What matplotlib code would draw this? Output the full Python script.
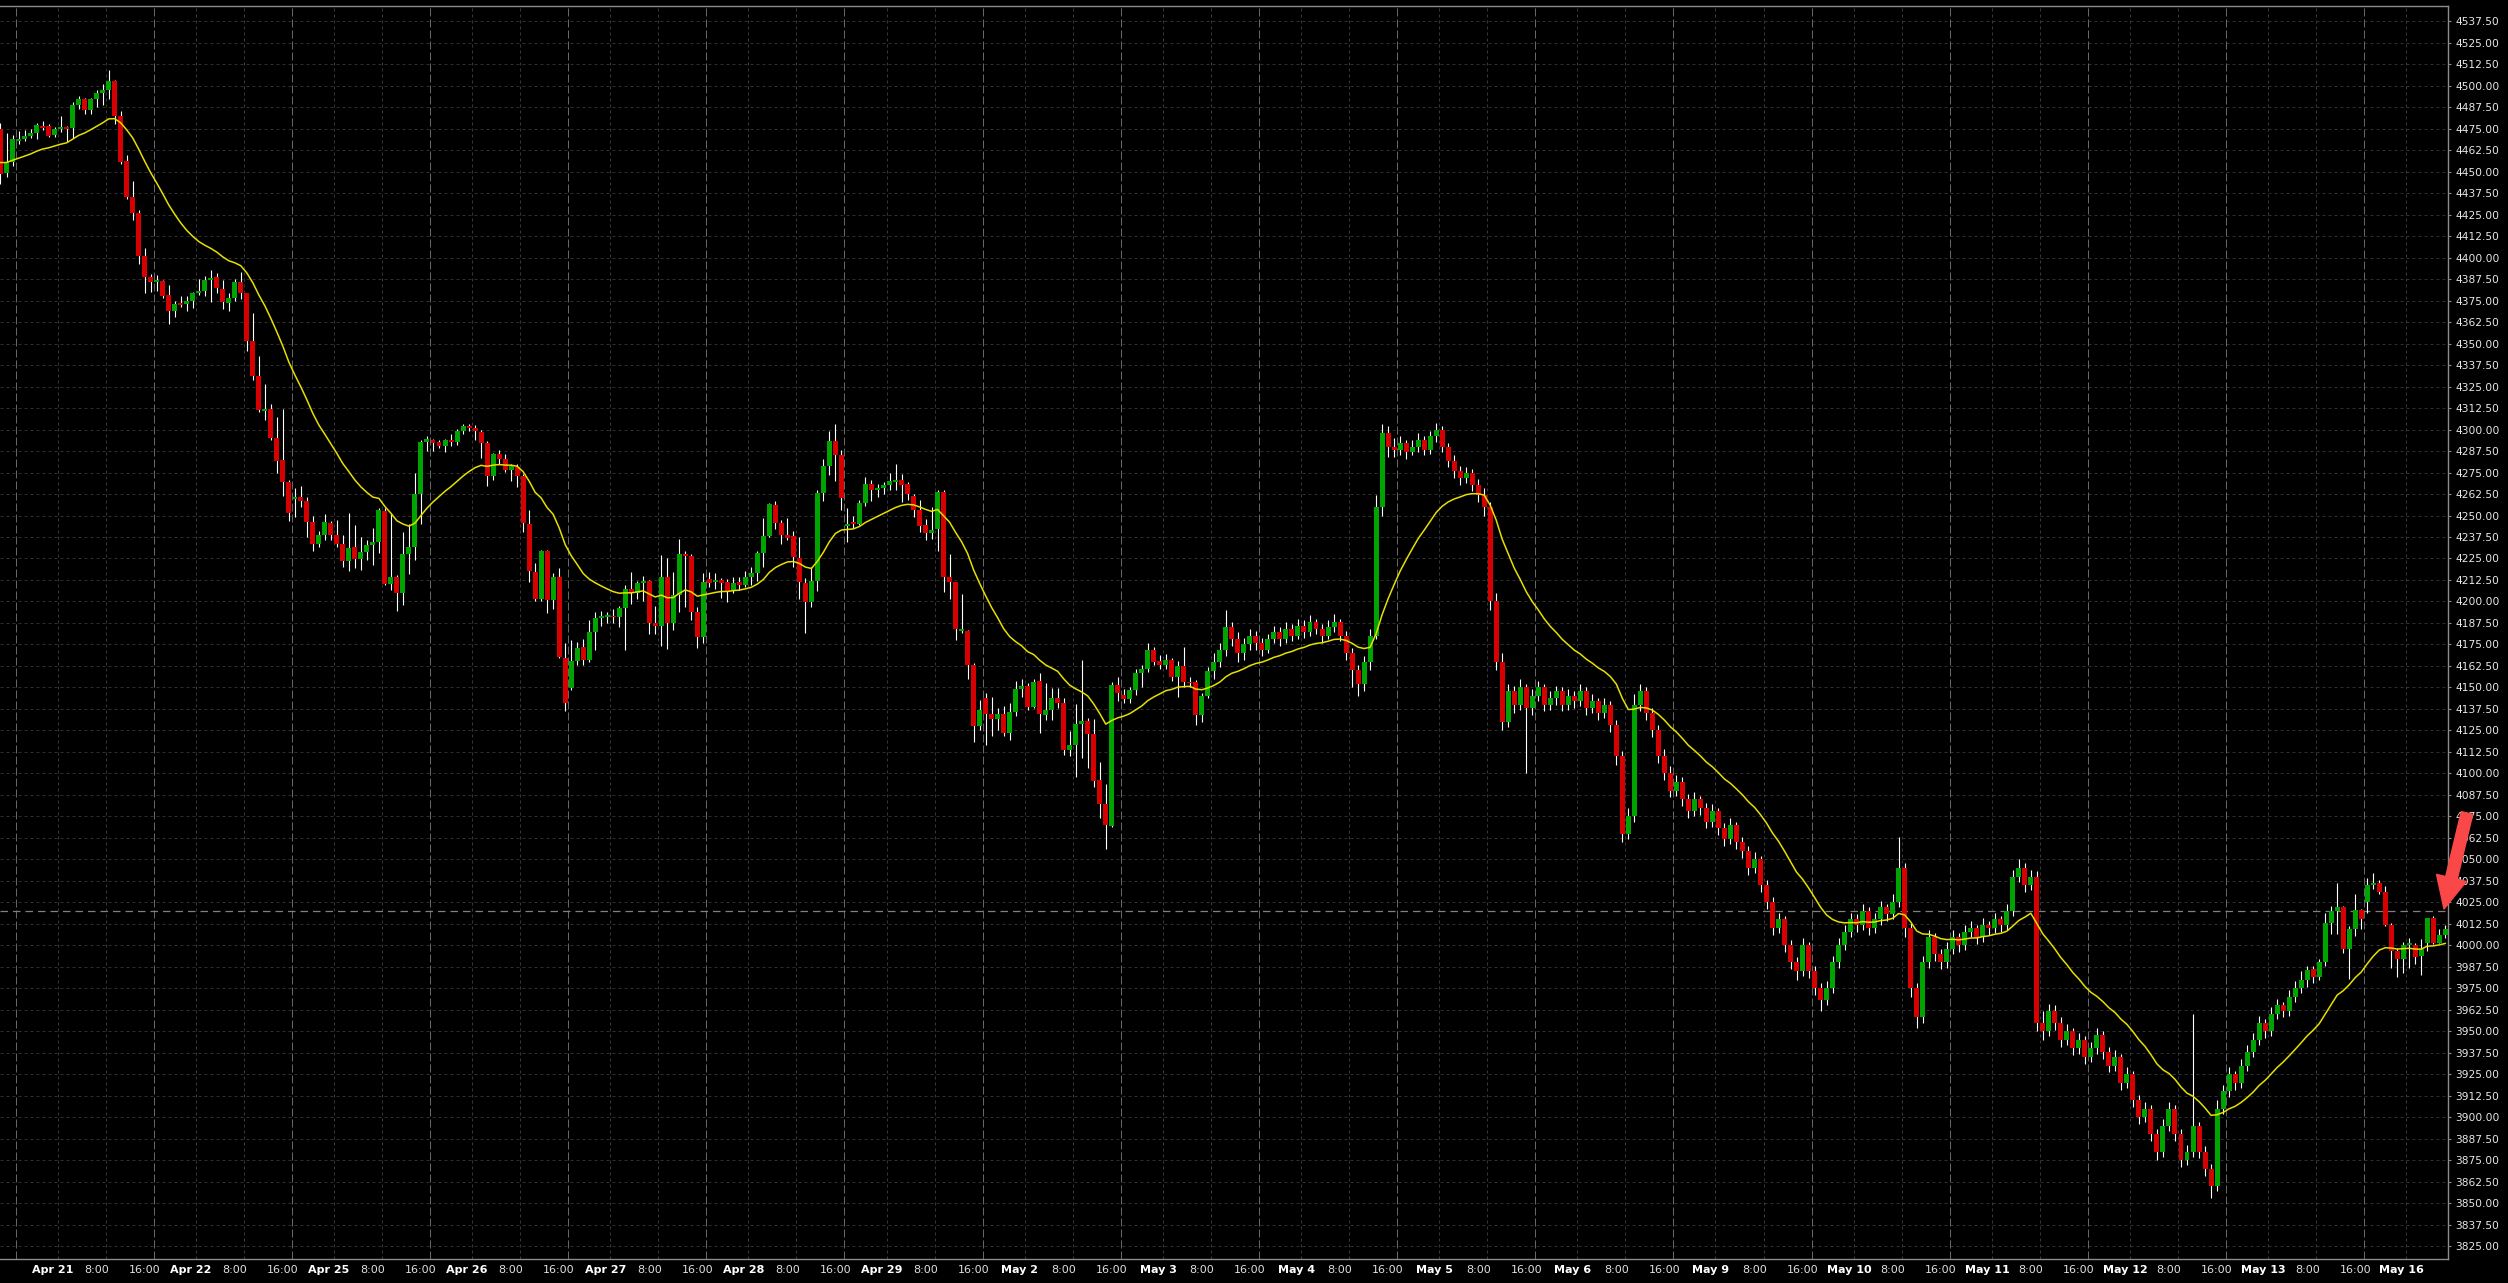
import numpy as np
import pandas as pd
import matplotlib
matplotlib.use("Agg")
import matplotlib.pyplot as plt
from matplotlib.transforms import blended_transform_factory

# hourly bars, 23 per session
opens = [
    4474.7, 4449.3, 4455.7, 4468.0, 4468.9, 4470.6, 4472.4, 4476.5, 4476.5, 4471.2,
    4474.7, 4475.9, 4475.3, 4488.7, 4492.2, 4485.8, 4492.2, 4495.8, 4497.4, 4502.6,
    4482.3, 4456.0, 4435.4, 4425.7, 4400.9, 4388.9, 4386.0, 4386.5, 4378.0, 4369.1,
    4373.3, 4373.3, 4374.9, 4379.2, 4380.7, 4386.9, 4388.5, 4381.5, 4373.7, 4376.5,
    4385.8, 4379.2, 4351.6, 4331.1, 4311.0, 4311.9, 4295.3, 4282.3, 4269.3, 4259.4,
    4260.6, 4258.4, 4246.0, 4233.4, 4238.7, 4245.4, 4238.7, 4233.4, 4223.7, 4231.5,
    4224.7, 4228.6, 4232.9, 4234.6, 4252.6, 4210.2, 4214.2, 4205.1, 4227.5, 4231.8,
    4262.4, 4292.6, 4293.8, 4292.6, 4290.5, 4293.8, 4292.6, 4299.0, 4301.9, 4301.2,
    4298.4, 4291.9, 4273.1, 4286.0, 4282.6, 4276.4, 4278.3, 4273.1, 4245.0, 4217.4,
    4201.6, 4229.3, 4200.8, 4214.0, 4167.4, 4149.8, 4165.3, 4173.3, 4165.9, 4182.4,
    4190.1, 4191.0, 4191.5, 4190.7, 4196.1, 4207.0, 4204.7, 4211.0, 4211.8, 4187.2,
    4185.9, 4214.3, 4187.2, 4203.7, 4227.5, 4226.4, 4194.0, 4179.5, 4212.8, 4211.6,
    4212.4, 4211.2, 4206.6, 4211.4, 4209.5, 4214.3, 4216.7, 4228.3, 4238.0, 4256.0,
    4245.7, 4238.6, 4238.0, 4225.4, 4210.9, 4199.8, 4211.8, 4263.2, 4278.7, 4293.2,
    4285.1, 4244.0, 4245.9, 4245.3, 4257.0, 4268.2, 4264.7, 4265.9, 4267.6, 4269.6,
    4270.4, 4268.2, 4261.6, 4253.1, 4244.4, 4240.0, 4242.2, 4263.8, 4214.0, 4211.4,
    4183.0, 4182.9, 4163.0, 4127.5, 4143.8, 4134.5, 4131.4, 4134.3, 4123.5, 4135.7,
    4148.8, 4150.8, 4138.8, 4153.7, 4134.0, 4136.8, 4144.0, 4141.1, 4113.6, 4116.5,
    4128.7, 4130.4, 4122.9, 4096.1, 4082.2, 4069.6, 4151.4, 4145.5, 4143.0, 4148.4,
    4158.1, 4160.7, 4171.7, 4165.3, 4163.0, 4165.9, 4156.2, 4162.4, 4153.3, 4153.3,
    4133.9, 4145.0, 4159.7, 4165, 4172, 4185, 4178, 4170, 4175, 4180,
    4176, 4172, 4178, 4182, 4178, 4184, 4180, 4186, 4182, 4188,
    4184, 4180, 4185, 4188, 4180, 4170, 4160, 4152, 4165, 4180,
    4255, 4298, 4290, 4288, 4292, 4287, 4290, 4294, 4288, 4296,
    4300, 4290, 4282, 4276, 4272, 4275, 4268, 4262, 4255, 4200,
    4165, 4130, 4148, 4140, 4150, 4138, 4145, 4150, 4140, 4144,
    4148, 4140, 4145, 4142, 4148, 4138, 4142, 4135, 4140, 4128,
    4110, 4065, 4075, 4140, 4148, 4135, 4125, 4110, 4100, 4090,
    4095, 4085, 4078, 4085, 4080, 4072, 4078, 4068, 4062, 4070,
    4060, 4055, 4045, 4050, 4035, 4025, 4010, 4015, 4000, 3990,
    3985, 4000, 3985, 3975, 3968, 3975, 3990, 4000, 4008, 4015,
    4012, 4020, 4010, 4015, 4022, 4018, 4025, 4045, 4010, 3975,
    3958, 3990, 4005, 3995, 3990, 3998, 4005, 4000, 4008, 4010,
    4005, 4012, 4010, 4015, 4012, 4020, 4040, 4045, 4035, 4040,
    3955, 3950, 3962, 3955, 3945, 3950, 3940, 3945, 3935, 3940,
    3948, 3938, 3930, 3935, 3920, 3925, 3910, 3900, 3905, 3890,
    3880, 3895, 3905, 3890, 3875, 3880, 3895, 3880, 3870, 3860,
    3905, 3915, 3925, 3920, 3930, 3938, 3945, 3955, 3950, 3960,
    3965, 3962, 3970, 3975, 3980, 3986, 3981.7, 3990.2, 4013.1, 4019.9,
    4022.2, 3997.6, 4009.6, 4020.8, 4025.1, 4034.8, 4036.0, 4030.9, 4011.7, 3996.6,
    3992.2, 4000.1, 4000.1, 3993.8, 4001.5, 4015.6, 4001.5, 4005.7,
]
highs = [
    4478.4, 4472.6, 4471.2, 4473.7, 4474.1, 4474.7, 4478.4, 4479.4, 4477.6, 4476.0,
    4482.5, 4476.6, 4490.8, 4493.9, 4493.1, 4493.1, 4497.8, 4501.3, 4509.0, 4503.6,
    4485.4, 4459.6, 4444.7, 4428.0, 4405.9, 4390.4, 4389.8, 4386.9, 4384.0, 4374.9,
    4377.8, 4377.8, 4380.1, 4387.5, 4389.2, 4393.1, 4390.8, 4386.9, 4379.2, 4387.5,
    4391.4, 4379.6, 4367.9, 4342.7, 4326.5, 4314.8, 4307.5, 4311.9, 4270.6, 4265.8,
    4267.2, 4260.9, 4249.7, 4241.2, 4250.9, 4247.0, 4247.4, 4238.7, 4251.3, 4244.5,
    4237.3, 4235.8, 4242.9, 4254.6, 4254.6, 4251.6, 4215.4, 4240.5, 4245.0, 4274.8,
    4294.2, 4296.1, 4294.8, 4294.2, 4294.8, 4297.3, 4300.6, 4303.1, 4303.1, 4302.5,
    4300.0, 4293.2, 4286.4, 4288.0, 4286.0, 4280.2, 4279.8, 4274.4, 4253.1, 4222.1,
    4229.8, 4229.8, 4216.7, 4219.2, 4175.6, 4177.5, 4176.2, 4177.9, 4189.1, 4194.0,
    4194.4, 4194.0, 4195.9, 4197.3, 4209.5, 4216.9, 4212.0, 4214.7, 4212.4, 4197.3,
    4226.9, 4225.0, 4216.9, 4236.2, 4229.2, 4227.5, 4196.9, 4216.7, 4216.9, 4216.3,
    4213.4, 4212.8, 4214.3, 4214.3, 4217.6, 4220.2, 4229.5, 4248.3, 4257.0, 4258.5,
    4247.3, 4248.8, 4241.1, 4237.6, 4213.4, 4220.2, 4264.7, 4283.1, 4299.2, 4303.1,
    4288.4, 4254.1, 4249.6, 4259.3, 4272.5, 4270.9, 4268.2, 4269.6, 4274.8, 4279.8,
    4274.4, 4269.6, 4262.6, 4258.9, 4247.7, 4254.7, 4265.1, 4265.1, 4227.9, 4211.4,
    4204.3, 4183.3, 4164.0, 4142.6, 4146.9, 4144.2, 4137.8, 4139.0, 4140.7, 4153.7,
    4154.7, 4152.3, 4154.8, 4158.1, 4152.3, 4149.8, 4149.8, 4143.6, 4124.8, 4140.3,
    4165.9, 4132.4, 4131.4, 4106.8, 4093.8, 4153.3, 4155.8, 4148.8, 4150.0, 4161.0,
    4163.0, 4175.6, 4173.6, 4168.8, 4169.4, 4167.4, 4165.5, 4173.6, 4155.8, 4154.3,
    4146.9, 4162.0, 4170, 4176, 4195, 4188, 4182, 4179, 4184, 4183,
    4179, 4181, 4186, 4185, 4188, 4187, 4190, 4189, 4192, 4190,
    4187, 4189, 4193, 4190, 4183, 4173, 4163, 4168, 4184, 4262,
    4303, 4302, 4295, 4296, 4294, 4294, 4298, 4296, 4299, 4304,
    4302, 4292, 4285, 4279, 4278, 4277, 4271, 4266, 4258, 4205,
    4170, 4152, 4151, 4155, 4152, 4149, 4154, 4152, 4148, 4151,
    4150, 4149, 4148, 4152, 4150, 4146, 4144, 4144, 4142, 4131,
    4113, 4080, 4146, 4152, 4150, 4138, 4128, 4114, 4104, 4099,
    4098, 4088, 4089, 4087, 4083, 4082, 4080, 4071, 4074, 4072,
    4063, 4058, 4054, 4052, 4038, 4028, 4019, 4017, 4003, 3993,
    4004, 4002, 3988, 3978, 3979, 3994, 4004, 4012, 4019, 4018,
    4024, 4022, 4019, 4026, 4024, 4030, 4063, 4048, 4013, 3978,
    3994, 4009, 4007, 3998, 4002, 4009, 4007, 4012, 4014, 4012,
    4016, 4014, 4019, 4017, 4024, 4044, 4050, 4048, 4044, 4043,
    3962, 3966, 3965, 3958, 3954, 3952, 3949, 3947, 3944, 3952,
    3950, 3941, 3939, 3937, 3929, 3927, 3913, 3909, 3907, 3893,
    3899, 3909, 3907, 3893, 3884, 3960, 3897, 3883, 3873, 3910,
    3919, 3929, 3927, 3934, 3942, 3949, 3959, 3957, 3964, 3969,
    3967, 3974, 3979, 3985, 3988, 3988, 3991.8, 4018.9, 4022.8, 4036.0,
    4022.8, 4011.1, 4029.6, 4021.2, 4039.2, 4041.8, 4037.9, 4034.4, 4012.7, 3998.6,
    4002.0, 4004.4, 4001.5, 4003.8, 4015.6, 4016.9, 4009.6, 4011.7,
]
lows = [
    4442.7, 4447.0, 4453.2, 4466.4, 4467.8, 4469.8, 4468.9, 4474.1, 4470.2, 4470.2,
    4473.0, 4467.3, 4469.9, 4486.3, 4483.4, 4483.4, 4487.7, 4488.7, 4492.2, 4478.0,
    4454.7, 4434.4, 4421.8, 4396.2, 4379.5, 4380.1, 4380.7, 4376.3, 4361.7, 4365.6,
    4371.3, 4369.1, 4370.5, 4378.0, 4377.6, 4374.3, 4379.7, 4370.1, 4369.1, 4374.9,
    4375.9, 4345.8, 4328.8, 4310.4, 4305.5, 4293.9, 4274.5, 4261.3, 4247.0, 4249.3,
    4255.1, 4237.3, 4229.5, 4231.5, 4235.8, 4236.0, 4231.9, 4220.3, 4217.9, 4219.3,
    4218.3, 4224.1, 4221.2, 4228.0, 4209.6, 4206.7, 4194.7, 4197.9, 4215.9, 4224.0,
    4245.3, 4287.6, 4287.6, 4289.5, 4287.0, 4290.3, 4290.9, 4297.7, 4299.2, 4293.8,
    4283.5, 4267.0, 4270.5, 4279.8, 4275.4, 4270.2, 4266.3, 4240.5, 4211.4, 4200.4,
    4200.4, 4193.4, 4195.9, 4166.9, 4136.4, 4148.4, 4163.0, 4163.0, 4164.9, 4171.7,
    4185.7, 4187.2, 4187.2, 4184.9, 4171.7, 4198.8, 4201.4, 4200.4, 4181.0, 4181.0,
    4174.0, 4172.1, 4183.3, 4193.6, 4196.9, 4189.5, 4172.7, 4175.6, 4208.5, 4207.0,
    4202.3, 4199.8, 4204.7, 4206.6, 4208.5, 4209.5, 4212.0, 4220.2, 4237.6, 4242.0,
    4233.3, 4235.7, 4220.2, 4201.2, 4181.8, 4196.9, 4206.2, 4258.5, 4273.4, 4270.2,
    4253.1, 4234.7, 4243.0, 4244.4, 4255.4, 4258.5, 4260.5, 4262.8, 4265.1, 4265.1,
    4257.9, 4259.3, 4249.2, 4240.5, 4235.7, 4236.6, 4229.5, 4205.6, 4201.7, 4177.5,
    4181.4, 4154.7, 4118.4, 4125.4, 4116.5, 4121.7, 4125.0, 4121.7, 4119.4, 4133.3,
    4144.6, 4136.8, 4137.8, 4123.6, 4131.0, 4131.0, 4137.8, 4110.7, 4110.1, 4097.7,
    4108.7, 4102.9, 4091.9, 4074.2, 4055.8, 4068.6, 4142.2, 4141.1, 4141.1, 4145.5,
    4150.4, 4159.1, 4163.0, 4161.0, 4160.5, 4153.9, 4144.6, 4150.0, 4150.0, 4128.1,
    4130.0, 4143.6, 4155, 4162, 4168, 4174, 4165, 4166, 4172, 4172,
    4168, 4170, 4176, 4174, 4176, 4177, 4178, 4179, 4180, 4181,
    4176, 4178, 4182, 4177, 4166, 4150, 4145, 4148, 4160, 4178,
    4250, 4284, 4284, 4285, 4283, 4285, 4287, 4285, 4286, 4293,
    4287, 4278, 4272, 4268, 4269, 4264, 4258, 4250, 4195, 4160,
    4125, 4127, 4135, 4137, 4100, 4134, 4142, 4136, 4137, 4140,
    4136, 4137, 4138, 4139, 4134, 4135, 4131, 4132, 4124, 4105,
    4060, 4062, 4072, 4136, 4131, 4121, 4106, 4096, 4086, 4087,
    4081, 4074, 4075, 4076, 4068, 4069, 4064, 4058, 4059, 4056,
    4051, 4041, 4042, 4031, 4021, 4006, 4007, 3996, 3986, 3980,
    3982, 3981, 3971, 3962, 3965, 3972, 3987, 3997, 4005, 4008,
    4009, 4006, 4007, 4012, 4014, 4015, 4022, 4005, 3970, 3952,
    3955, 3987, 3991, 3986, 3987, 3995, 3996, 3997, 4005, 4001,
    4002, 4006, 4007, 4008, 4009, 4017, 4037, 4031, 4032, 3950,
    3945, 3947, 3951, 3941, 3942, 3936, 3937, 3931, 3932, 3937,
    3934, 3926, 3927, 3916, 3917, 3906, 3896, 3897, 3886, 3875,
    3877, 3892, 3886, 3871, 3872, 3877, 3876, 3866, 3853, 3857,
    3902, 3912, 3916, 3917, 3927, 3935, 3942, 3946, 3947, 3957,
    3958, 3959, 3967, 3972, 3976, 3978, 3980, 3987.9, 4006.3, 4006.3,
    3995.3, 3980.1, 4005.3, 4009.2, 4018.9, 4032.5, 4030.1, 4011.1, 3986.9, 3981.7,
    3984.0, 3986.9, 3988.9, 3982.5, 3996.6, 4000.5, 4001.1, 4004.4,
]
closes = [
    4448.9, 4455.7, 4468.9, 4469.0, 4470.6, 4472.4, 4477.0, 4475.3, 4470.8, 4474.7,
    4475.9, 4474.7, 4488.7, 4492.2, 4485.8, 4492.2, 4495.8, 4497.4, 4502.6, 4482.3,
    4455.7, 4435.4, 4425.7, 4400.9, 4388.9, 4386.0, 4387.0, 4377.8, 4369.1, 4373.3,
    4372.4, 4374.9, 4379.2, 4380.7, 4386.9, 4388.0, 4382.5, 4374.3, 4376.5, 4385.8,
    4379.2, 4351.6, 4331.1, 4311.3, 4312.0, 4295.3, 4281.7, 4269.7, 4251.6, 4260.6,
    4258.6, 4246.4, 4233.4, 4238.7, 4246.0, 4238.7, 4233.4, 4223.7, 4230.9, 4224.7,
    4228.6, 4232.9, 4234.6, 4253.2, 4210.2, 4214.2, 4205.1, 4227.5, 4231.8, 4262.4,
    4292.6, 4294.4, 4292.1, 4290.5, 4293.8, 4292.6, 4299.0, 4301.9, 4300.8, 4299.2,
    4291.9, 4273.1, 4286.0, 4282.8, 4276.4, 4278.7, 4273.1, 4245.7, 4217.8, 4201.6,
    4229.3, 4200.8, 4214.0, 4167.8, 4141.1, 4165.3, 4173.1, 4165.9, 4182.4, 4190.1,
    4191.5, 4191.0, 4190.7, 4196.1, 4207.0, 4204.7, 4211.0, 4211.8, 4187.2, 4185.9,
    4214.3, 4187.2, 4203.7, 4227.5, 4226.4, 4194.0, 4179.5, 4211.2, 4211.0, 4212.4,
    4210.9, 4206.0, 4210.9, 4209.5, 4214.3, 4216.7, 4228.3, 4238.0, 4256.6, 4245.7,
    4238.6, 4237.2, 4225.6, 4211.4, 4199.8, 4211.8, 4263.2, 4278.7, 4293.2, 4285.1,
    4260.3, 4245.3, 4245.0, 4257.0, 4268.2, 4264.7, 4265.9, 4267.6, 4270.0, 4270.4,
    4267.6, 4262.4, 4253.1, 4243.8, 4240.0, 4241.5, 4263.8, 4214.3, 4211.4, 4183.7,
    4183.0, 4163.0, 4127.5, 4136.8, 4134.5, 4131.4, 4134.3, 4123.5, 4135.8, 4148.8,
    4150.8, 4138.8, 4153.3, 4134.5, 4136.8, 4144.0, 4141.1, 4113.6, 4116.5, 4128.7,
    4130.4, 4122.9, 4095.7, 4082.2, 4070.0, 4151.4, 4146.5, 4143.0, 4148.4, 4158.1,
    4160.7, 4171.7, 4164.9, 4163.0, 4165.9, 4156.2, 4162.4, 4153.3, 4152.3, 4133.9,
    4145.0, 4159.7, 4165, 4172, 4185, 4178, 4170, 4175, 4180, 4176,
    4172, 4178, 4182, 4178, 4184, 4180, 4186, 4182, 4188, 4184,
    4180, 4185, 4188, 4180, 4170, 4160, 4152, 4165, 4180, 4255,
    4298, 4290, 4288, 4292, 4287, 4290, 4294, 4288, 4296, 4300,
    4290, 4282, 4276, 4272, 4275, 4268, 4262, 4255, 4200, 4165,
    4130, 4148, 4140, 4150, 4138, 4145, 4150, 4140, 4144, 4148,
    4140, 4145, 4142, 4148, 4138, 4142, 4135, 4140, 4128, 4110,
    4065, 4075, 4140, 4148, 4135, 4125, 4110, 4100, 4090, 4095,
    4085, 4078, 4085, 4080, 4072, 4078, 4068, 4062, 4070, 4060,
    4055, 4045, 4050, 4035, 4025, 4010, 4015, 4000, 3990, 3985,
    4000, 3985, 3975, 3968, 3975, 3990, 4000, 4008, 4015, 4012,
    4020, 4010, 4015, 4022, 4018, 4025, 4045, 4010, 3975, 3958,
    3990, 4005, 3995, 3990, 3998, 4005, 4000, 4008, 4010, 4005,
    4012, 4010, 4015, 4012, 4020, 4040, 4045, 4035, 4040, 3955,
    3950, 3962, 3955, 3945, 3950, 3940, 3945, 3935, 3940, 3948,
    3938, 3930, 3935, 3920, 3925, 3910, 3900, 3905, 3890, 3880,
    3895, 3905, 3890, 3875, 3880, 3895, 3880, 3870, 3860, 3905,
    3915, 3925, 3920, 3930, 3938, 3945, 3955, 3950, 3960, 3965,
    3962, 3970, 3975, 3980, 3985.4, 3981.7, 3990.2, 4013.1, 4019.9, 4022.2,
    3997.6, 4009.6, 4020.8, 4015.0, 4034.8, 4036.0, 4030.9, 4011.7, 3996.6, 3992.2,
    4000.1, 4000.5, 3993.3, 3997.6, 4015.6, 4001.5, 4005.7, 4009.2,
]

day_labels = ["Apr 21", "Apr 22", "Apr 25", "Apr 26", "Apr 27", "Apr 28", "Apr 29",
              "May 2", "May 3", "May 4", "May 5", "May 6", "May 9", "May 10",
              "May 11", "May 12", "May 13", "May 16"]
time_labels = ["8:00", "16:00"]

ma_span = 20
ma_seed = 4456.0
price_line = 4020.0

bars_per_day = 23
first_day_edge = 2.5
time_offsets = [7, 15]

ymin, ymax = 3817.5, 4546.4
xmin, xmax = -0.083, 407.45
y_ticks = np.arange(3825.0, 4537.6, 12.5)

bg = "#000000"
up_col = "#00a400"
down_col = "#d60000"

fig = plt.figure(figsize=(25.08, 12.83), dpi=100, facecolor=bg)
ax = fig.add_axes([0, 24 / 1283, 2448 / 2508, 1253 / 1283])
ax.set_facecolor(bg)

o = np.array(opens)
h = np.array(highs)
l = np.array(lows)
c = np.array(closes)
x = np.arange(len(c))
cols = np.where(c >= o, up_col, down_col)

ax.vlines(x, l, h, color="white", lw=0.8, zorder=3)
ax.bar(x, np.maximum(np.abs(c - o), 1.0), bottom=np.minimum(o, c), width=0.83,
       color=cols, linewidth=0, zorder=4)

ma = pd.Series([ma_seed] + closes).ewm(span=ma_span, adjust=False).mean().values[1:]
ax.plot(x, ma, color="#e6df00", lw=1.1, zorder=5)

ax.axhline(price_line, color="#808080", lw=0.9, ls=(0, (6, 4)), zorder=2)

# grid
for v in y_ticks:
    ax.axhline(v, color="#2f2f2f", lw=0.72, ls=(0, (3, 3)), zorder=1)

trans = blended_transform_factory(ax.transData, fig.transFigure)
for d, lab in enumerate(day_labels):
    base = first_day_edge + bars_per_day * d
    ax.axvline(base, color="#666666", lw=0.72, ls=(0, (8, 3)), zorder=1)
    ax.text(base + 6.2, 13 / 1283, lab, transform=trans, ha="center", va="center",
            color="white", fontsize=8, fontweight="bold")
    for off, tl in zip(time_offsets, time_labels):
        pos = base + off
        if pos < xmax:
            ax.axvline(pos, color="#383838", lw=0.72, ls=(0, (3, 3)), zorder=1)
        if pos + 6.5 < xmax - 4:
            ax.text(pos + 6.5, 13 / 1283, tl, transform=trans, ha="center", va="center",
                    color="#e0e0e0", fontsize=8)

ax.set_xlim(xmin, xmax)
ax.set_ylim(ymin, ymax)
ax.set_xticks([])
ax.yaxis.tick_right()
ax.set_yticks(y_ticks)
ax.set_yticklabels([f"{v:.2f}" for v in y_ticks])
ax.tick_params(axis="y", colors="#8c8c8c", labelcolor="#e8e8e8", labelsize=7.7,
               length=2.2, width=0.8, pad=2.9, direction="out")
ax.spines["left"].set_visible(False)
for s in ["right", "top", "bottom"]:
    ax.spines[s].set_color("#8c8c8c")
    ax.spines[s].set_linewidth(1.0)

ax.annotate("", xy=(2444, 374), xytext=(2467, 470), xycoords="figure pixels",
            textcoords="figure pixels", annotation_clip=False, zorder=20,
            arrowprops=dict(arrowstyle="simple,head_width=2.2,head_length=2.3,tail_width=0.85",
                            color="#fa4848", shrinkA=0, shrinkB=0, mutation_scale=10))

fig.savefig("out.png", dpi=100, facecolor=bg)
